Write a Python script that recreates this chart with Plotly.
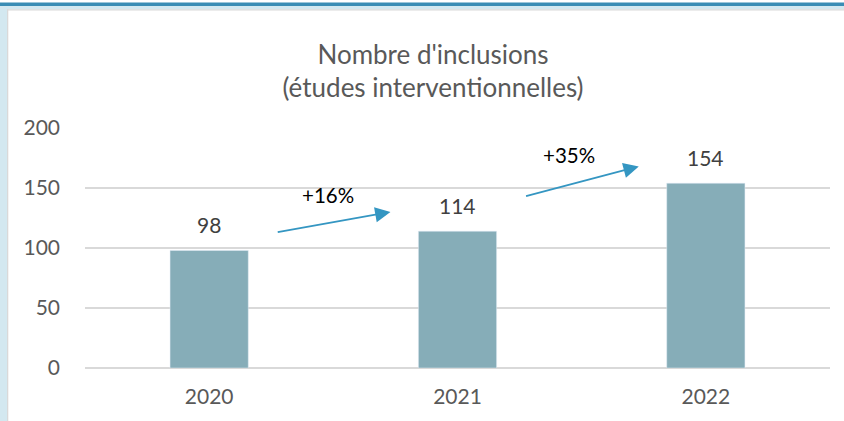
import plotly.graph_objects as go

years = ["2020", "2021", "2022"]
inclusions = [98, 114, 154]
growth_labels = ["+16%", "+35%"]
y_ticks = [0, 50, 100, 150, 200]

W, H = 844, 421
L, R, T, B = 85, 14, 128, 53
pw, ph = W - L - R, H - T - B

def px(x):
    return (x - L) / pw

def py(y):
    return (H - B - y) / ph

FONT = "Lato"
fig = go.Figure()
fig.add_trace(go.Bar(
    x=years, y=inclusions, marker_color="#86ADB8",
    cliponaxis=False, width=0.315, hoverinfo="x+y",
))

shapes = [
    dict(type="rect", xref="paper", yref="paper", x0=px(0), x1=px(W), y0=py(6), y1=py(2.5),
         fillcolor="#3A8DB5", line_width=0, layer="above"),
    dict(type="rect", xref="paper", yref="paper", x0=px(0), x1=px(W), y0=py(9.3), y1=py(6),
         fillcolor="#D3E8F0", line_width=0, layer="above"),
    dict(type="rect", xref="paper", yref="paper", x0=px(7), x1=px(W), y0=py(10.5), y1=py(9.3),
         fillcolor="#D9D9D9", line_width=0, layer="above"),
    dict(type="rect", xref="paper", yref="paper", x0=px(0), x1=px(7), y0=py(H), y1=py(6),
         fillcolor="#D3E8F0", line_width=0, layer="above"),
    dict(type="rect", xref="paper", yref="paper", x0=px(7), x1=px(8.3), y0=py(H), y1=py(9.3),
         fillcolor="#D9D9D9", line_width=0, layer="above"),
]

annotations = []
# value labels above bars (category index positions)
for i, v in enumerate(inclusions):
    annotations.append(dict(
        x=i, y=v, xref="x", yref="y", text=str(v), showarrow=False,
        yanchor="middle", yshift=26,
        font=dict(family=FONT, size=21, color="#404040"),
    ))

# growth arrows between consecutive bars (category index coordinates)
arrows = [
    ((0.27, 113.0), (0.73, 130.0)),
    ((1.27, 143.0), (1.73, 168.0)),
]
label_pos = [(0.48, 144.0), (1.45, 177.5)]
for (start, end), lab, (lx, ly) in zip(arrows, growth_labels, label_pos):
    annotations.append(dict(
        x=end[0], y=end[1], ax=start[0], ay=start[1],
        xref="x", yref="y", axref="x", ayref="y",
        showarrow=True, arrowhead=2, arrowsize=1.7, arrowwidth=1.8,
        arrowcolor="#3496C2", text="",
    ))
    annotations.append(dict(
        x=lx, y=ly, xref="x", yref="y", text=lab, showarrow=False,
        font=dict(family=FONT, size=20.5, color="#000000"),
    ))

fig.update_layout(
    width=W, height=H,
    margin=dict(l=L, r=R, t=T, b=B),
    paper_bgcolor="white", plot_bgcolor="white",
    showlegend=False,
    title=dict(
        text="Nombre d'inclusions<br>(études interventionnelles)",
        xref="container", x=433 / W, xanchor="center",
        yref="container", y=1 - 63.5 / H, yanchor="middle",
        font=dict(family=FONT, size=26, color="#595959"),
    ),
    shapes=shapes,
    annotations=annotations,
)
fig.update_xaxes(
    type="category", categoryorder="array", categoryarray=years,
    range=[-0.5, len(years) - 0.5], autorange=False,
    showgrid=False, showline=False, ticks="",
    tickfont=dict(family=FONT, size=21, color="#595959"),
    ticklabelstandoff=14,
)
fig.update_yaxes(
    range=[0, 200], autorange=False, tickvals=y_ticks, showgrid=True, gridcolor="#D9D9D9", gridwidth=1.5,
    zeroline=True, zerolinecolor="#D9D9D9", zerolinewidth=1.5, showline=False,
    tickfont=dict(family=FONT, size=21, color="#595959"),
    ticklabelstandoff=24,
)
fig.write_html(
    "out.html",
    config={"displayModeBar": False},
    post_script="document.body.style.margin='0';document.body.style.overflow='hidden';",
)
